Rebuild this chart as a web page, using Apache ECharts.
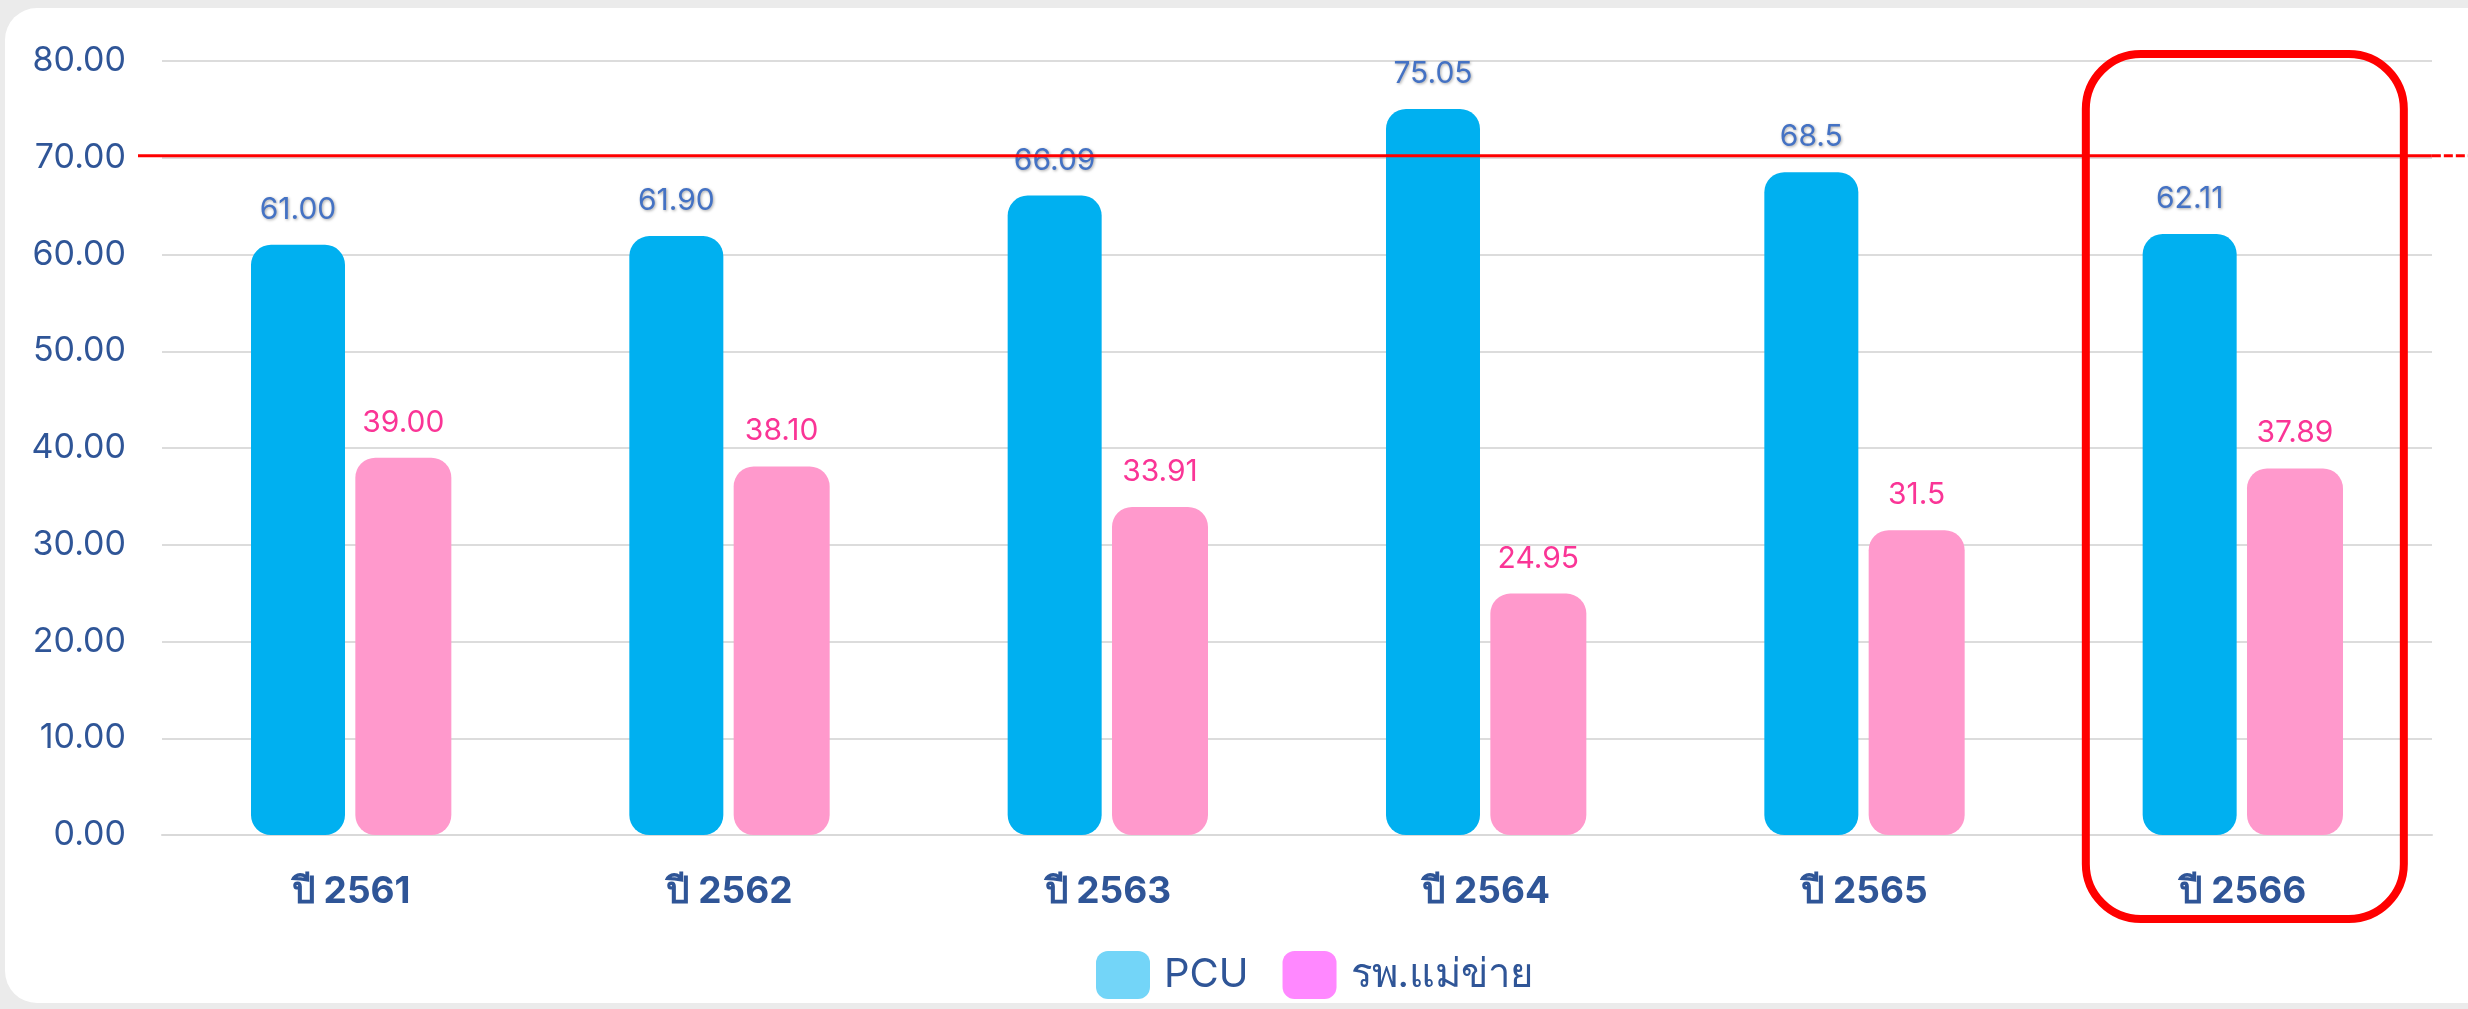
<!DOCTYPE html>
<html>
<head>
<meta charset="utf-8">
<script src="https://cdn.jsdelivr.net/npm/echarts@6/dist/echarts.min.js"></script>
<style>
    html, body { margin: 0; padding: 0; background: #ebebeb; overflow: hidden; }
    #card { position: absolute; left: 5px; top: 8px; width: 2520px; height: 995px; background: #fff; border-radius: 32px; }
    #main { position: absolute; left: 0; top: 0; width: 2468px; height: 1009px; }
</style>
</head>
<body>
<div id="card"></div>
<div id="main"></div>
<script>
// ข้อมูลแต่ละปี
const categories = ['ปี 2561', 'ปี 2562', 'ปี 2563', 'ปี 2564', 'ปี 2565', 'ปี 2566'];
const pcuValues = [61.00, 61.90, 66.09, 75.05, 68.5, 62.11];
const pcuLabels = ['61.00', '61.90', '66.09', '75.05', '68.5', '62.11'];
const hospitalValues = [39.00, 38.10, 33.91, 24.95, 31.5, 37.89];
const hospitalLabels = ['39.00', '38.10', '33.91', '24.95', '31.5', '37.89'];
const seriesNames = ['PCU', 'รพ.แม่ข่าย'];
const yMin = 0, yMax = 80, yStep = 10;
const targetValue = 70;
const highlightCategory = 'ปี 2566';

const fontFamily = "Inter, Roboto, 'Noto Sans', sans-serif";
const navy = '#2F5597';

let myChart = echarts.init(document.getElementById('main'));

myChart.setOption({
    animation: false,
    grid: { left: 162, right: 36, top: 61, bottom: 174 },
    legend: {
        left: 1091,
        top: 946,
        itemWidth: 54,
        itemHeight: 48,
        itemGap: 34,
        icon: 'roundRect',
        textStyle: { color: navy, fontSize: 40, fontFamily: fontFamily, padding: [0, 0, 0, 9] },
        data: [
            { name: seriesNames[0], itemStyle: { color: '#73D5F8' } },
            { name: seriesNames[1], itemStyle: { color: '#FF88FF' } }
        ]
    },
    xAxis: {
        type: 'category',
        data: categories,
        axisLine: { lineStyle: { color: '#d9d9d9', width: 2 } },
        axisTick: { show: false },
        axisLabel: { color: navy, fontSize: 37, fontWeight: 'bold', fontFamily: fontFamily, margin: 38 }
    },
    yAxis: {
        type: 'value',
        min: yMin,
        max: yMax,
        interval: yStep,
        axisLabel: {
            color: navy, fontSize: 34, fontFamily: fontFamily, margin: 36,
            formatter: function (v) { return v.toFixed(2); }
        },
        splitLine: { lineStyle: { color: '#dcdcdc', width: 2 } }
    },
    series: [{
        name: seriesNames[0],
        type: 'bar',
        data: pcuValues,
        barWidth: 94,
        barGap: '11%',
        itemStyle: { color: '#00B0F0', borderRadius: 20 },
        label: {
            show: true, position: 'top', distance: 20,
            color: '#4472C4', fontSize: 30, fontFamily: fontFamily,
            textShadowColor: 'rgba(0,0,0,0.35)', textShadowBlur: 3, textShadowOffsetX: 1, textShadowOffsetY: 1,
            formatter: function (p) { return pcuLabels[p.dataIndex]; }
        }
    }, {
        name: seriesNames[1],
        type: 'bar',
        data: hospitalValues,
        barWidth: 96,
        itemStyle: { color: '#FF99CC', borderRadius: 20 },
        label: {
            show: true, position: 'top', distance: 20,
            color: '#FA3596', fontSize: 30, fontFamily: fontFamily,
            formatter: function (p) { return hospitalLabels[p.dataIndex]; }
        }
    }]
});

// เส้นเป้าหมาย และกรอบไฮไลต์ปีล่าสุด
let lineY = myChart.convertToPixel({ yAxisIndex: 0 }, targetValue) - 2;
let boxX = myChart.convertToPixel({ xAxisIndex: 0 }, highlightCategory);
let gridTop = myChart.convertToPixel({ yAxisIndex: 0 }, yMax);
let gridBottom = myChart.convertToPixel({ yAxisIndex: 0 }, yMin);
let gridRight = myChart.convertToPixel({ xAxisIndex: 0 }, categories[categories.length - 1]) + 189;

myChart.setOption({
    graphic: [{
        type: 'line',
        z: 100,
        shape: { x1: 138, y1: lineY, x2: gridRight, y2: lineY },
        style: { stroke: '#FF0000', lineWidth: 3 }
    }, {
        type: 'line',
        z: 100,
        shape: { x1: gridRight, y1: lineY, x2: 2468, y2: lineY },
        style: { stroke: '#FF0000', lineWidth: 3, lineDash: [9, 3] }
    }, {
        type: 'rect',
        z: 101,
        shape: { x: boxX - 157, y: gridTop - 7, width: 318, height: gridBottom - gridTop + 91, r: 55 },
        style: { fill: 'none', stroke: '#FF0000', lineWidth: 8 }
    }]
});
</script>
</body>
</html>
